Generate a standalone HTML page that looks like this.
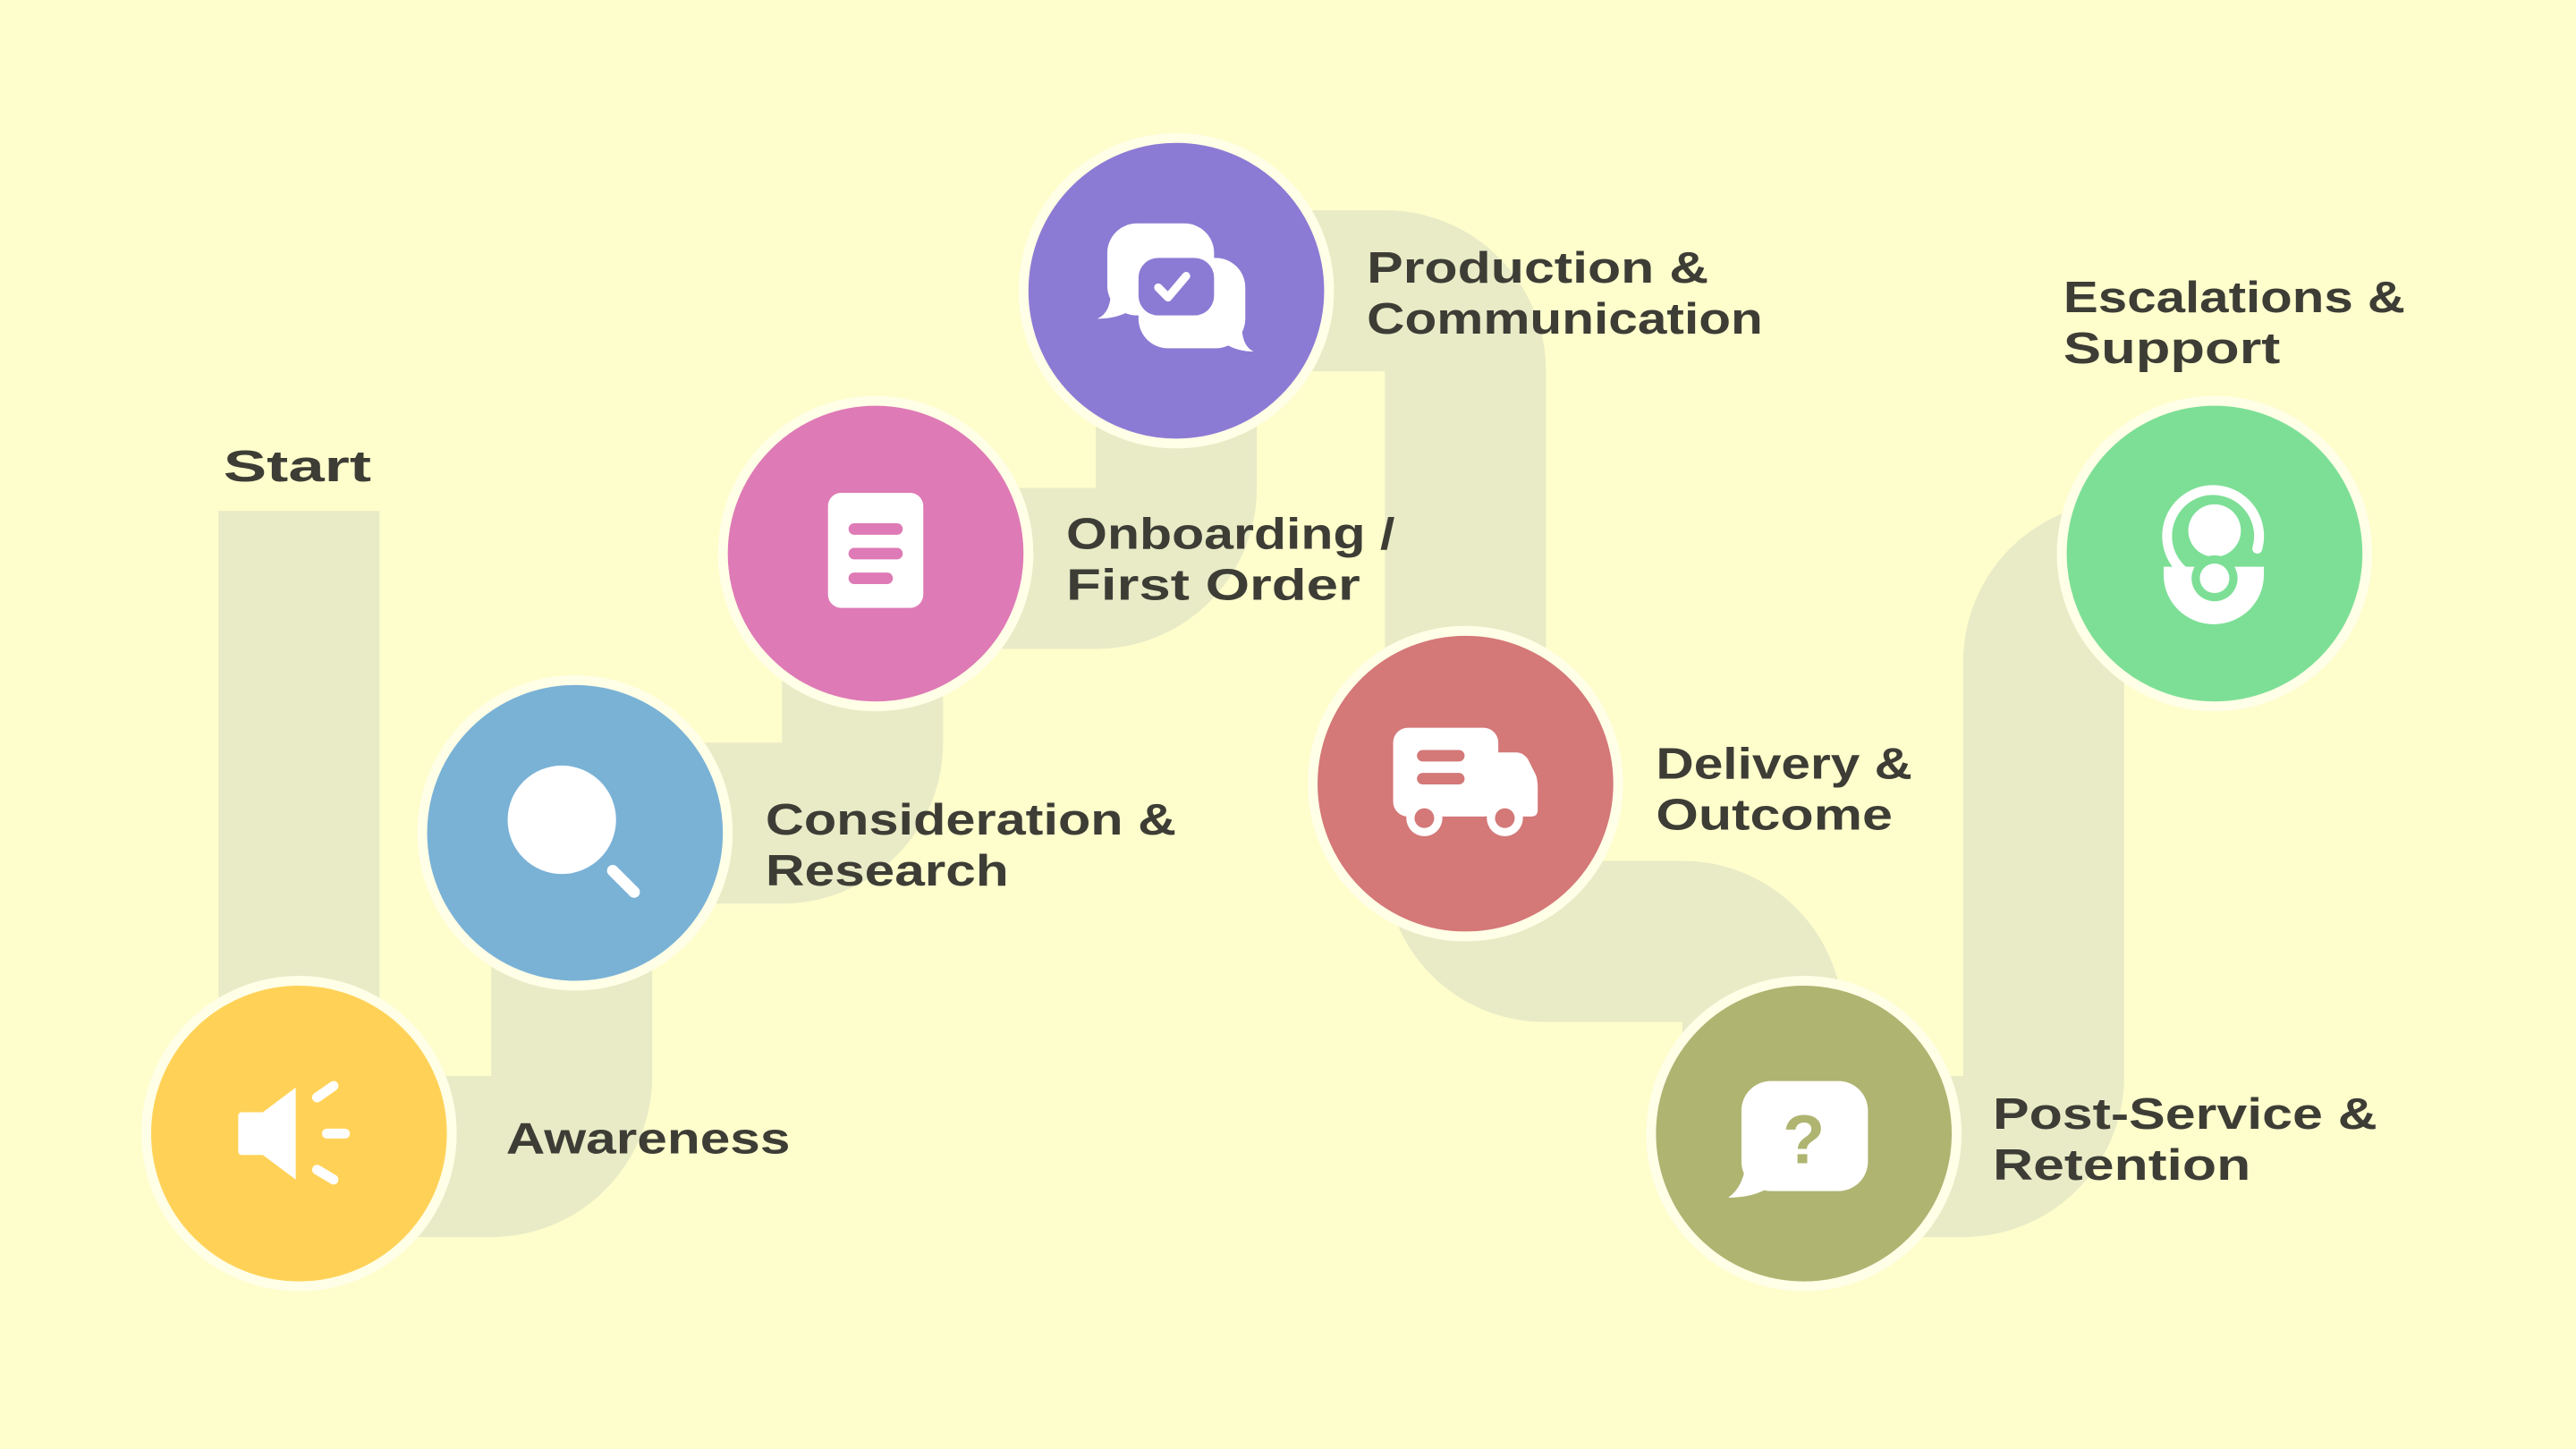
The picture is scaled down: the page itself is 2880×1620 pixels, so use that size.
<!DOCTYPE html>
<html><head><meta charset="utf-8"><style>
html,body{margin:0;padding:0;background:#fefdcc;}
svg{display:block;}
text{font-family:"Liberation Sans",sans-serif;font-weight:bold;font-size:27px;fill:#3d3d36;}
</style></head><body>
<svg width="2880" height="1620" viewBox="0 0 1568 882" xmlns="http://www.w3.org/2000/svg">
<rect width="1568" height="882" fill="#fefdcc"/>
<g fill="none" stroke="#e8ebc6" stroke-width="98">
<path d="M182,311 V655 A49,49 0 0 0 231,704 H299 A49,49 0 0 0 348,655 V550 A49,49 0 0 1 397,501 H476 A49,49 0 0 0 525,452 V395 A49,49 0 0 1 574,346 H667 A49,49 0 0 0 716,297 V177 H843 A49,49 0 0 1 892,226 V525 A48,48 0 0 0 940,573 H1024 A49,49 0 0 1 1073,622 V690"/>
<path d="M1098,704 H1195 A49,49 0 0 0 1244,655 V403 A49,49 0 0 1 1293,354 H1348"/>
</g>
<g stroke="#fffee6" stroke-width="6">
<circle cx="182" cy="690" r="93" fill="#ffd257"/>
<circle cx="350" cy="507" r="93" fill="#7ab2d6"/>
<circle cx="533" cy="337" r="93" fill="#de7ab6"/>
<circle cx="716" cy="177" r="93" fill="#8c7bd4"/>
<circle cx="892" cy="477" r="93" fill="#d47878"/>
<circle cx="1098" cy="690" r="93" fill="#afb471"/>
<circle cx="1348" cy="337" r="93" fill="#7ddf96"/>
</g>
<g fill="#fff">
<rect x="145" y="677" width="17" height="26" rx="2"/>
<polygon points="160,677 180,662 180,718 160,703"/>
</g>
<g stroke="#fff" stroke-width="6" stroke-linecap="round">
<line x1="193" y1="668" x2="203" y2="661"/>
<line x1="199" y1="690" x2="210" y2="690"/>
<line x1="193" y1="712" x2="203" y2="718"/>
</g>
<circle cx="342" cy="499" r="33" fill="#fff"/>
<line x1="373" y1="530" x2="386" y2="543" stroke="#fff" stroke-width="7" stroke-linecap="round"/>
<rect x="504" y="300" width="58" height="70" rx="8" fill="#fff"/>
<g stroke="#de7ab6" stroke-width="7" stroke-linecap="round">
<line x1="520" y1="322" x2="546" y2="322"/><line x1="520" y1="337" x2="546" y2="337"/><line x1="520" y1="352" x2="540" y2="352"/>
</g>
<g fill="#fff">
<rect x="674" y="136" width="65" height="56" rx="18"/>
<path d="M676,175 Q677,190 668,194 Q680,194 688,189 Z"/>
<rect x="693" y="157" width="65" height="55" rx="18"/>
<path d="M756,195 Q755,210 763,214 Q752,214 744,208 Z"/>
</g>
<rect x="693" y="157" width="46" height="35" rx="12" fill="#8c7bd4"/>
<polyline points="705,175 711,181 722,168" fill="none" stroke="#fff" stroke-width="5" stroke-linecap="round" stroke-linejoin="round"/>
<g fill="#fff">
<rect x="848" y="443" width="64" height="54" rx="9"/>
<path d="M905,458 H923 Q927,458 930,462 L935,472 Q936,475 936,480 V493 Q936,497 932,497 H905 Z"/>
<circle cx="867" cy="498" r="11"/><circle cx="916" cy="498" r="11"/>
</g>
<g fill="#d47878"><circle cx="867" cy="498" r="6"/><circle cx="916" cy="498" r="6"/></g>
<g stroke="#d47878" stroke-width="7" stroke-linecap="round">
<line x1="866" y1="460" x2="888" y2="460"/><line x1="866" y1="474" x2="888" y2="474"/>
</g>
<rect x="1060" y="658" width="77" height="67" rx="18" fill="#fff"/>
<path d="M1063,705 Q1062,722 1052,729 Q1068,729 1078,722 Z" fill="#fff"/>
<text x="1098" y="708" text-anchor="middle" style="font-size:42px;fill:#afb471">?</text>
<path d="M1374,334 A28,28 0 1 0 1336,352" fill="none" stroke="#fff" stroke-width="6" stroke-linecap="round"/>
<circle cx="1348" cy="323" r="16" fill="#fff"/>
<path d="M1317,345 L1378,345 L1378,350 A30.5,30 0 0 1 1317,350 Z" fill="#fff"/>
<circle cx="1348" cy="352" r="14" fill="#7ddf96"/>
<circle cx="1348" cy="352" r="9" fill="#fff"/>
<text x="136" y="293" textLength="90" lengthAdjust="spacingAndGlyphs">Start</text>
<text x="308" y="702" textLength="173" lengthAdjust="spacingAndGlyphs">Awareness</text>
<text x="466" y="508" textLength="250" lengthAdjust="spacingAndGlyphs">Consideration &amp;</text>
<text x="466" y="539" textLength="148" lengthAdjust="spacingAndGlyphs">Research</text>
<text x="649" y="334" textLength="200" lengthAdjust="spacingAndGlyphs">Onboarding /</text>
<text x="649" y="365" textLength="179" lengthAdjust="spacingAndGlyphs">First Order</text>
<text x="832" y="172" textLength="208" lengthAdjust="spacingAndGlyphs">Production &amp;</text>
<text x="832" y="203" textLength="241" lengthAdjust="spacingAndGlyphs">Communication</text>
<text x="1256" y="190" textLength="208" lengthAdjust="spacingAndGlyphs">Escalations &amp;</text>
<text x="1256" y="221" textLength="132" lengthAdjust="spacingAndGlyphs">Support</text>
<text x="1008" y="474" textLength="156" lengthAdjust="spacingAndGlyphs">Delivery &amp;</text>
<text x="1008" y="505" textLength="144" lengthAdjust="spacingAndGlyphs">Outcome</text>
<text x="1213" y="687" textLength="234" lengthAdjust="spacingAndGlyphs">Post-Service &amp;</text>
<text x="1213" y="718" textLength="157" lengthAdjust="spacingAndGlyphs">Retention</text>
</svg>
</body></html>
